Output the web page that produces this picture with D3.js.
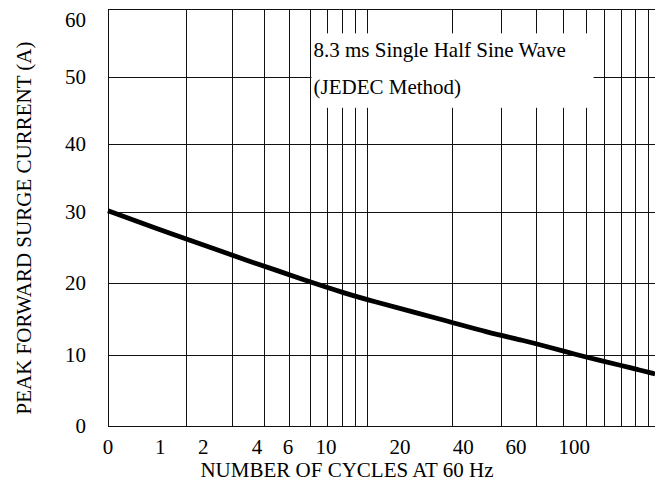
<!DOCTYPE html>
<html>
<head>
<meta charset="utf-8">
<script src="https://cdnjs.cloudflare.com/ajax/libs/d3/7.8.5/d3.min.js"></script>
<style>
  body { margin: 0; background: #fff; }
  svg text { font-family: "Liberation Serif", "Times New Roman", Times, "DejaVu Serif", serif; fill: #000; }
</style>
</head>
<body>
<div id="chart"></div>
<script>
// surge curve
var cycles = [1, 1.8, 2.6, 3.5, 4.5, 5.6, 6.9, 8.1, 10, 19, 27, 36, 45, 55, 68, 80, 91, 106];
var amps = [30.2, 26.8, 24.8, 23.1, 21.8, 20.6, 19.5, 18.7, 17.7, 14.8, 13.1, 12.0, 11.0, 10.05, 9.15, 8.5, 7.95, 7.3];

// grid + ticks
var xGrid = [2, 3, 4, 5, 6, 7, 8, 9, 10, 20, 30, 40, 50, 60, 70, 80, 90, 100];
var yTicks = [0, 10, 20, 30, 40, 50, 60];
var xTickLabels = ["0", "1", "2", "4", "6", "10", "20", "40", "60", "100"];
var xTickAt = [1, 1.59, 2.33, 3.76, 4.95, 6.94, 13.1, 22, 33.9, 54.6];

// note box (cycles / amps)
var noteLines = ["8.3 ms Single Half Sine Wave", "(JEDEC Method)"];
var noteX = [6, 64];
var noteY = [45.4, 56.4];

(function () {
    "use strict";

    var width = 655, height = 482;
    var FONT = "'Liberation Serif', 'Times New Roman', Times, serif";

    var svg = d3.select("#chart").append("svg")
        .attr("width", width)
        .attr("height", height)
        .attr("font-family", FONT);

    ////////////////////////////////////////////////
    // scales (piecewise, the printed grid is not quite even)
    var x = d3.scaleLog().domain([1, 10, 100]).range([108, 367, 648]);
    var y = d3.scaleLinear().domain([0, 30, 60]).range([426, 212, 9]);

    var x0 = x(1), x1 = width, yTop = y(60), yBot = y(0);
    var px = function (v) { return Math.round(v) + 0.5; };

    var grid = svg.append("g")
        .attr("stroke", "#111")
        .attr("stroke-width", 1)
        .attr("shape-rendering", "crispEdges");

    grid.selectAll("line.v")
        .data([1].concat(xGrid))
        .enter().append("line")
        .attr("class", "v")
        .attr("x1", function (d) { return px(x(d)); })
        .attr("x2", function (d) { return px(x(d)); })
        .attr("y1", yTop)
        .attr("y2", yBot);

    grid.selectAll("line.h")
        .data(yTicks)
        .enter().append("line")
        .attr("class", "h")
        .attr("x1", x0)
        .attr("x2", x1)
        .attr("y1", function (d) { return px(y(d)); })
        .attr("y2", function (d) { return px(y(d)); });

    // white box behind the note, cuts the grid
    var bx = px(x(noteX[0])) + 1;
    svg.append("rect")
        .attr("x", bx)
        .attr("y", y(noteY[1]))
        .attr("width", x(noteX[1]) - bx)
        .attr("height", y(noteY[0]) - y(noteY[1]))
        .attr("fill", "#fff");

    svg.selectAll("text.note")
        .data(noteLines)
        .enter().append("text")
        .attr("class", "note")
        .attr("x", bx + 2)
        .attr("y", function (d, i) { return y(noteY[1]) + 24 + i * 37; })
        .attr("font-size", 21)
        .text(function (d) { return d; });

    ////////////////////////////////////////////////
    // curve
    var pts = cycles.map(function (c, i) { return [c, amps[i]]; });
    var line = d3.line()
        .x(function (d) { return x(d[0]); })
        .y(function (d) { return y(d[1]); })
        .curve(d3.curveBasis);

    svg.append("path")
        .datum(pts)
        .attr("d", line)
        .attr("fill", "none")
        .attr("stroke", "#000")
        .attr("stroke-width", 4.8)
        .attr("stroke-linecap", "butt");

    ////////////////////////////////////////////////
    // tick labels
    svg.selectAll("text.ytick")
        .data(yTicks)
        .enter().append("text")
        .attr("class", "ytick")
        .attr("x", 86)
        .attr("y", function (d) { return Math.max(y(d) + 7, 27); })
        .attr("text-anchor", "end")
        .attr("font-size", 21)
        .text(function (d) { return d; });

    svg.selectAll("text.xtick")
        .data(xTickAt)
        .enter().append("text")
        .attr("class", "xtick")
        .attr("x", function (d) { return x(d); })
        .attr("y", 454)
        .attr("text-anchor", "middle")
        .attr("font-size", 21)
        .text(function (d, i) { return xTickLabels[i]; });

    // axis titles
    svg.append("text")
        .attr("x", 347)
        .attr("y", 477)
        .attr("text-anchor", "middle")
        .attr("font-size", 21)
        .text("NUMBER OF CYCLES AT 60 Hz");

    svg.append("text")
        .attr("transform", "translate(31,228) rotate(-90)")
        .attr("text-anchor", "middle")
        .attr("font-size", 21)
        .text("PEAK FORWARD SURGE CURRENT (A)");
})();
</script>
</body>
</html>
